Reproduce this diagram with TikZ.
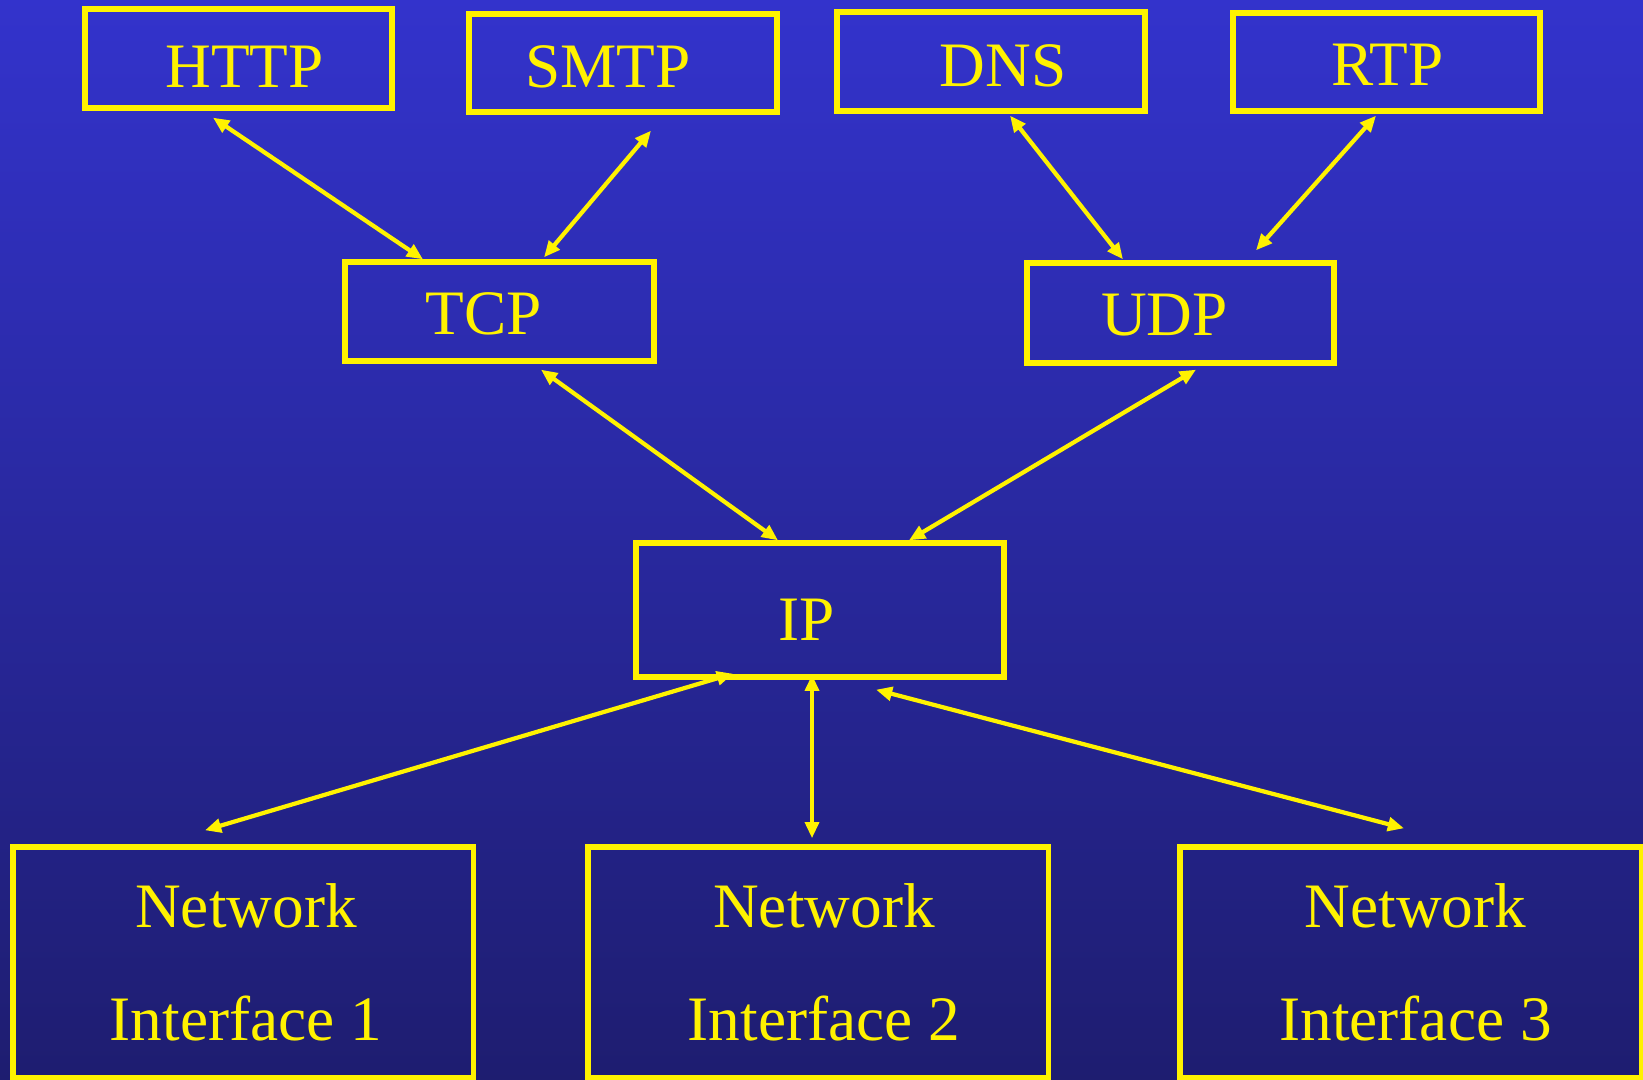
\documentclass[tikz,border=0pt]{standalone}
\usepackage{fontspec}
\setmainfont{Liberation Serif}
\usetikzlibrary{arrows.meta,calc}
\definecolor{slidetop}{RGB}{51,51,204}
\definecolor{slidebot}{RGB}{30,29,112}
\tikzset{
	proto/.style={draw=yellow,line width=1.5pt,inner sep=0pt},
	word/.style={text=yellow,align=center,inner sep=0pt,font=\fontsize{18}{32}\selectfont},
	link/.style={yellow,line width=1.2pt,{Triangle[length=4.6pt,width=3.9pt]}-{Triangle[length=4.6pt,width=3.9pt]}}
}
\begin{document}
\begin{tikzpicture}[x=0.01cm,y=-0.01cm]
		\shade[top color=slidetop,bottom color=slidebot] (0,0) rectangle (1643,1080);
		\useasboundingbox (0,0) rectangle (1643,1080);
		\node[proto,minimum width=3.07cm,minimum height=0.99cm,label={[word,shift={(6,8)}]center:HTTP}] (http) at (238.5,58.5) {};
		\node[proto,minimum width=3.08cm,minimum height=0.98cm,label={[word,shift={(-15,4)}]center:SMTP}] (smtp) at (623,63) {};
		\node[proto,minimum width=3.08cm,minimum height=0.99cm,label={[word,shift={(12,4)}]center:DNS}] (dns) at (991,61.5) {};
		\node[proto,minimum width=3.07cm,minimum height=0.98cm,label={[word,shift={(1,3)}]center:RTP}] (rtp) at (1386.5,62) {};
		\node[proto,minimum width=3.09cm,minimum height=0.99cm,label={[word,shift={(-16,2)}]center:TCP}] (tcp) at (499.5,311.5) {};
		\node[proto,minimum width=3.07cm,minimum height=1.00cm,label={[word,shift={(-16,2)}]center:UDP}] (udp) at (1180.5,313) {};
		\node[proto,minimum width=3.68cm,minimum height=1.34cm,label={[word,shift={(-13,10)}]center:IP}] (ip) at (820,610) {};
		\node[proto,minimum width=4.60cm,minimum height=2.31cm,label={[word,shift={(3,0)}]center:Network\\Interface 1}] (nic1) at (243,962.5) {};
		\node[proto,minimum width=4.60cm,minimum height=2.31cm,label={[word,shift={(6,0)}]center:Network\\Interface 2}] (nic2) at (818,962.5) {};
		\node[proto,minimum width=4.61cm,minimum height=2.31cm,label={[word,shift={(5,0)}]center:Network\\Interface 3}] (nic3) at (1410.5,962.5) {};
		\draw[link] ($(http.south)+(-25.5,7)$) -- ($(tcp.north)+(-76.5,0)$);
		\draw[link] ($(smtp.south)+(28,16)$) -- ($(tcp.north)+(44.5,-2)$);
		\draw[link] ($(dns.south)+(19,2)$) -- ($(udp.north)+(-57.5,-1)$);
		\draw[link] ($(rtp.south)+(-10.5,2)$) -- ($(udp.north)+(75.5,-10)$);
		\draw[link] ($(tcp.south)+(41.5,6)$) -- ($(ip.north)+(-42,0)$);
		\draw[link] ($(udp.south)+(15.5,4)$) -- ($(ip.north)+(89,0)$);
		\draw[link] ($(ip.south)+(-87,-6)$) -- ($(nic1.north)+(-38,-14)$);
		\draw[link] ($(ip.south)+(-8,-5)$) -- ($(nic2.north)+(-6,-6)$);
		\draw[link] ($(ip.south)+(56,10)$) -- ($(nic3.north)+(-6.5,-16)$);
\end{tikzpicture}
\end{document}
